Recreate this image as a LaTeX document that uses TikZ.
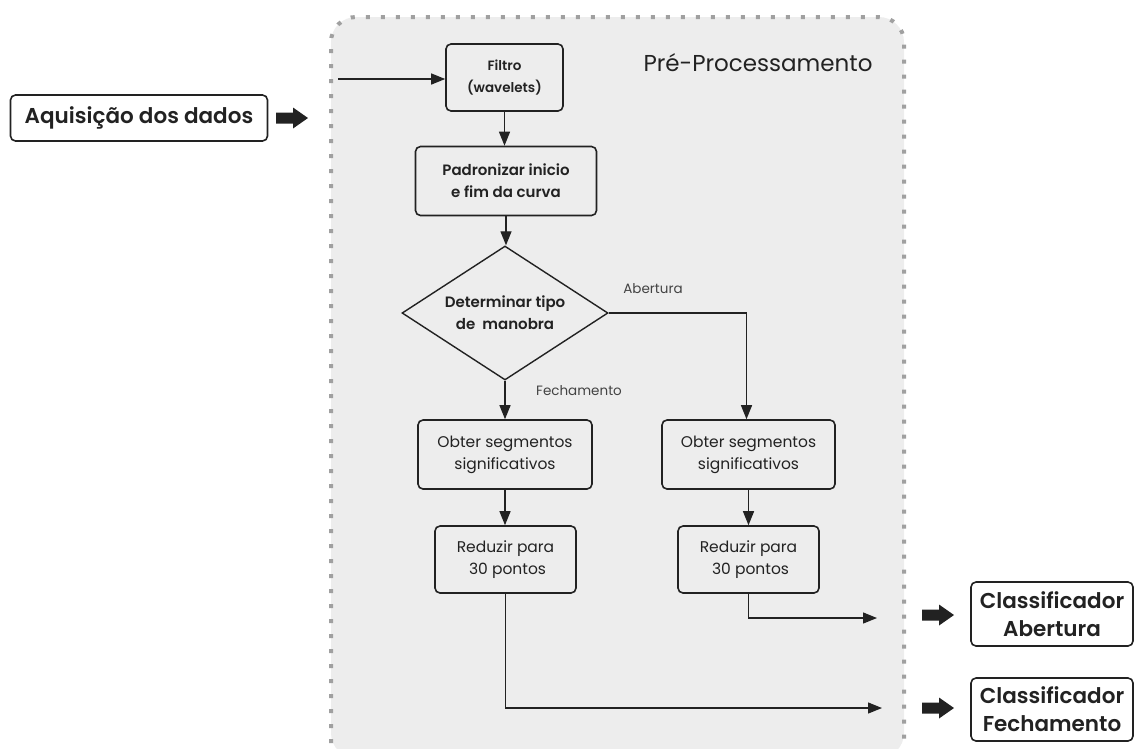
\documentclass[tikz,border=0pt]{standalone}
\usepackage{fontspec}
\setmainfont{Poppins}[BoldFont={Poppins SemiBold}]
\usetikzlibrary{arrows.meta,shapes.geometric}
\definecolor{bg}{HTML}{EDEDED}
\definecolor{ink}{HTML}{222222}
\definecolor{dotc}{HTML}{A0A0A0}
\begin{document}
\begin{tikzpicture}[x=1pt,y=-1pt,
  box/.style={draw=ink, line width=1.6pt, rounded corners=5pt, fill=bg, align=center, inner sep=0pt, text=ink},
  outbox/.style={box, fill=white},
  con/.style={draw=ink, line width=1.3pt, -{Triangle[length=14pt,width=11pt]}},
  lbl/.style={text=ink!85, inner sep=0pt, font=\fontsize{13.5}{15}\selectfont},
  fatarrow/.style={fill=ink},
  mid/.style={font=\fontsize{15.5}{22}\selectfont},
  midb/.style={font=\bfseries\fontsize{15}{22}\selectfont},
  big/.style={font=\bfseries\fontsize{21.5}{28}\selectfont}
]
\useasboundingbox (0,0) rectangle (1134,748);
% pre-processing region
\fill[bg, rounded corners=25pt] (331,17) rectangle (904,758);
\draw[dotc, line width=4pt, dash pattern=on 4pt off 11pt, rounded corners=25pt] (331,758) -- (331,17) -- (904,17) -- (904,758);
\node[text=ink, font=\fontsize{23}{26}\selectfont, inner sep=0pt] (title) at (758,63) {Pré-Processamento};

% outside boxes
\node[outbox, big, minimum width=257pt, minimum height=46pt] (aq) at (139,118) {Aquisição dos dados};
\node[outbox, big, minimum width=162pt, minimum height=64pt] (ca) at (1052,614) {Classificador\\Abertura};
\node[outbox, big, minimum width=162pt, minimum height=63pt] (cf) at (1052,709.5) {Classificador\\Fechamento};

% inner boxes
\node[box, font=\bfseries\fontsize{13.5}{22}\selectfont, minimum width=117pt, minimum height=67pt] (filt) at (504.5,77.5) {Filtro\\(wavelets)};
\node[box, midb, minimum width=181pt, minimum height=69pt] (pad) at (506,181) {Padronizar inicio\\e fim da curva};
\node[draw=ink, line width=1.4pt, fill=bg, diamond, minimum width=206pt, minimum height=134pt, inner sep=0pt] (dia) at (505,313) {};
\node[align=center, midb, text=ink, inner sep=0pt] (diatext) at (dia.center) {Determinar tipo\\de\ \ manobra};
\node[box, mid, minimum width=174pt, minimum height=69pt] (obl) at (505,454.5) {Obter segmentos\\significativos};
\node[box, mid, minimum width=173pt, minimum height=69pt] (obr) at (748.5,454.5) {Obter segmentos\\significativos};
\node[box, mid, minimum width=141pt, minimum height=67pt] (rdl) at (505.5,559.5) {Reduzir para\\\ 30 pontos};
\node[box, mid, minimum width=141pt, minimum height=67pt] (rdr) at (748.5,559.5) {Reduzir para\\\ 30 pontos};

% labels
\node[lbl] (labA) at (653,289) {Abertura};
\node[lbl] (labF) at (579,391) {Fechamento};

% connectors
\coordinate (in) at (338,79);
\coordinate (ea) at (877,618);
\coordinate (ef) at (882,708);
\draw[con] (in) -- (filt.west |- in);
\draw[con] (filt.south) -- (filt.south |- pad.north);
\draw[con] (pad.south) -- (pad.south |- dia.north);
\draw[con] (dia.east) -| ([xshift=-2pt]obr.north);
\draw[con] (dia.south) -- (dia.south |- obl.north);
\draw[con] (obl.south) -- (obl.south |- rdl.north);
\draw[con] (obr.south) -- (obr.south |- rdr.north);
\draw[con] (rdr.south) |- (ea);
\draw[con] (rdl.south) |- (ef);

% fat arrows
\fill[fatarrow, shift={(276,118)}] (0,-5.5) -- (17,-5.5) -- (17,-10.5) -- (32,0) -- (17,10.5) -- (17,5.5) -- (0,5.5) -- cycle;
\fill[fatarrow, shift={(922,615)}] (0,-5.5) -- (17,-5.5) -- (17,-10.5) -- (32,0) -- (17,10.5) -- (17,5.5) -- (0,5.5) -- cycle;
\fill[fatarrow, shift={(922,708)}] (0,-5.5) -- (17,-5.5) -- (17,-10.5) -- (32,0) -- (17,10.5) -- (17,5.5) -- (0,5.5) -- cycle;
\end{tikzpicture}
\end{document}
